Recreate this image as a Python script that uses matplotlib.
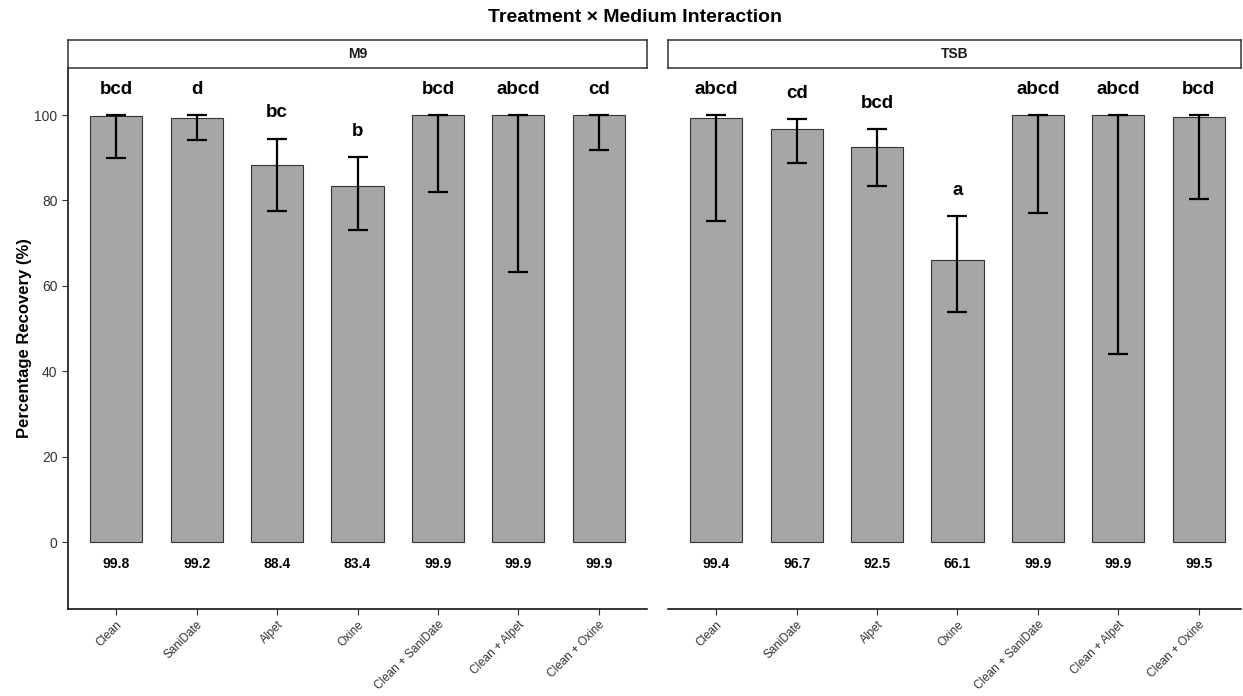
import numpy as np
import matplotlib
matplotlib.use("Agg")
import matplotlib.pyplot as plt

plt.rcParams['font.family'] = ['Liberation Sans', 'DejaVu Sans']

treatments = ['Clean', 'SaniDate', 'Alpet', 'Oxine',
              'Clean + SaniDate', 'Clean + Alpet', 'Clean + Oxine']
media = ['M9', 'TSB']

# mean recovery per treatment
means = {
    'M9': [99.8, 99.2, 88.4, 83.4, 99.9, 99.9, 99.9],
    'TSB': [99.4, 96.7, 92.5, 66.1, 99.9, 99.9, 99.5],
}
# error bar lower / upper ends
err_low = {
    'M9': [90.0, 94.2, 77.5, 73.2, 82.0, 63.3, 91.7],
    'TSB': [75.3, 88.8, 83.4, 53.9, 77.0, 44.1, 80.3],
}
err_high = {
    'M9': [100.0, 100.0, 94.5, 90.2, 100.0, 100.0, 100.0],
    'TSB': [100.0, 99.1, 96.8, 76.4, 100.0, 100.0, 100.0],
}
letters = {
    'M9': ['bcd', 'd', 'bc', 'b', 'bcd', 'abcd', 'cd'],
    'TSB': ['abcd', 'cd', 'bcd', 'a', 'abcd', 'abcd', 'bcd'],
}

W, H = 1243, 696
fig = plt.figure(figsize=(W / 100, H / 100), dpi=100)

panel_left = [68, 668]
panel_w = 579
bottom_px, top_px = 609, 68
strip_top = 40

x = np.arange(len(treatments))
for i, med in enumerate(media):
    # right panel is cut by the image edge
    pw = min(panel_w, W - 2 - panel_left[i])
    ax = fig.add_axes([panel_left[i] / W, 1 - bottom_px / H, pw / W, (bottom_px - top_px) / H])
    m = np.array(means[med])
    lo = np.array(err_low[med])
    hi = np.array(err_high[med])
    ax.bar(x, m, width=0.65, color='#a6a6a6', edgecolor='#333333', linewidth=0.8, zorder=2)
    ax.errorbar(x, m, yerr=[m - lo, hi - m], fmt='none', ecolor='black',
                elinewidth=1.6, capsize=7.5, capthick=1.6, zorder=3)
    for xi, h, lab, v in zip(x, hi, letters[med], m):
        ax.text(xi, h + 6, lab, ha='center', va='center', fontsize=13.5, fontweight='bold')
        ax.text(xi, -5, f'{v:.1f}', ha='center', va='center', fontsize=10, fontweight='bold')

    ax.set_xlim(-0.6, -0.6 + 7.2 * pw / panel_w)
    ax.set_ylim(-15.6, 111)
    ax.set_xticks(x)
    ax.set_xticklabels(treatments, rotation=45, ha='right', rotation_mode='anchor',
                       fontsize=8.5, color='#333333')
    ax.tick_params(axis='x', length=4, width=0.8, color='#333333', pad=3)
    for s in ['top', 'right']:
        ax.spines[s].set_visible(False)
    ax.spines['bottom'].set_linewidth(1.1)
    if i == 0:
        ax.set_yticks([0, 20, 40, 60, 80, 100])
        ax.tick_params(axis='y', length=4, width=0.8, color='#333333', labelsize=10,
                       labelcolor='#333333')
        ax.spines['left'].set_linewidth(1.1)
        ax.set_ylabel('Percentage Recovery (%)', fontsize=12, fontweight='bold', labelpad=2)
    else:
        ax.set_yticks([])
        ax.spines['left'].set_visible(False)

    # facet strip
    sax = fig.add_axes([panel_left[i] / W, 1 - top_px / H, pw / W, (top_px - strip_top) / H])
    sax.set_xticks([])
    sax.set_yticks([])
    for s in sax.spines.values():
        s.set_linewidth(1.1)
        s.set_color('#333333')
    sax.text(0.5, 0.5, med, ha='center', va='center', fontsize=10, fontweight='bold',
             color='#1a1a1a', transform=sax.transAxes)

fig.text(635 / W, 1 - 18 / H, 'Treatment × Medium Interaction', ha='center', va='center',
         fontsize=14, fontweight='bold')

fig.savefig('out.png', dpi=100)
